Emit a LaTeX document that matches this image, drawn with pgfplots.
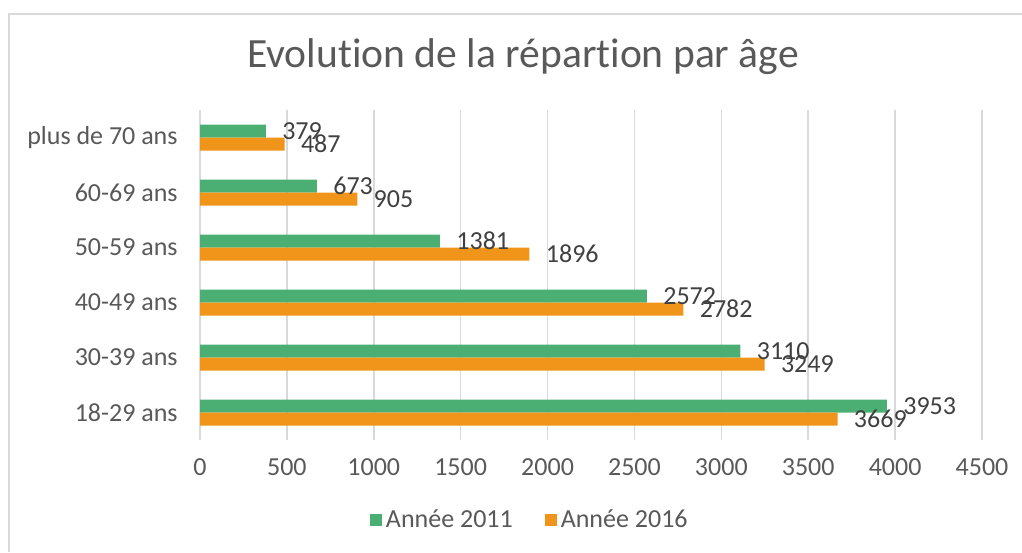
\documentclass[border=0pt]{standalone}
\usepackage{pgfplots}
\pgfplotsset{compat=1.18}
\usepackage{fontspec}
\setmainfont{Carlito}[Ligatures={NoCommon}]
\definecolor{cgreen}{HTML}{4BAF73}
\definecolor{corange}{HTML}{F09519}
\definecolor{cgrid}{HTML}{D9D9D9}
\definecolor{ctext}{HTML}{595959}
\definecolor{clabel}{HTML}{404040}
\begin{document}
\begin{tikzpicture}
\useasboundingbox (0pt,0pt) rectangle (511pt,276pt);
\draw[cgrid, line width=1pt] (4.25pt,0pt) -- (4.25pt,268.75pt) -- (511pt,268.75pt);
\node[text=ctext, font=\fontsize{20.8}{24}\selectfont] at (261.5pt,247.5pt) {Evolution de la répartion par âge};
\begin{axis}[
  at={(100pt,56pt)}, anchor=south west,
  scale only axis, width=391pt, height=165pt,
  xbar, bar width=6.5pt,
  xmin=0, xmax=4500, ymin=-0.5, ymax=5.5,
  xtick={0,500,...,4500},
  ytick={0,1,2,3,4,5},
  yticklabels={18-29 ans,30-39 ans,40-49 ans,50-59 ans,60-69 ans,plus de 70 ans},
  axis line style={draw=none},
  major tick length=0pt,
  xmajorgrids, grid style={cgrid, line width=0.8pt},
  tick label style={text=ctext, font=\fontsize{13}{15}\selectfont},
  xticklabel style={anchor=north, inner sep=0pt, yshift=-9pt},
  yticklabel style={anchor=east, inner sep=0pt, xshift=-11pt},
  /pgf/number format/assume math mode=true,
  /pgf/number format/1000 sep={},
  nodes near coords,
  nodes near coords style={anchor=west, inner sep=0pt, xshift=8pt, text=clabel, font=\fontsize{13}{15}\selectfont, /pgf/number format/1000 sep={}},
  legend style={at={(0.423,-0.242)}, anchor=center, draw=none, legend columns=2,
    font=\fontsize{13}{15}\selectfont, text=ctext,
    /tikz/every even column/.append style={column sep=14pt}},
  legend image code/.code={\fill[#1] (0pt,-3pt) rectangle (6pt,3pt);},
]
\addplot[fill=cgreen, draw=none, bar shift=3.25pt] coordinates {(3953,0) (3110,1) (2572,2) (1381,3) (673,4) (379,5)};
\addplot[fill=corange, draw=none, bar shift=-3.25pt] coordinates {(3669,0) (3249,1) (2782,2) (1896,3) (905,4) (487,5)};
\legend{Année 2011, Année 2016}
\end{axis}
\end{tikzpicture}
\end{document}
